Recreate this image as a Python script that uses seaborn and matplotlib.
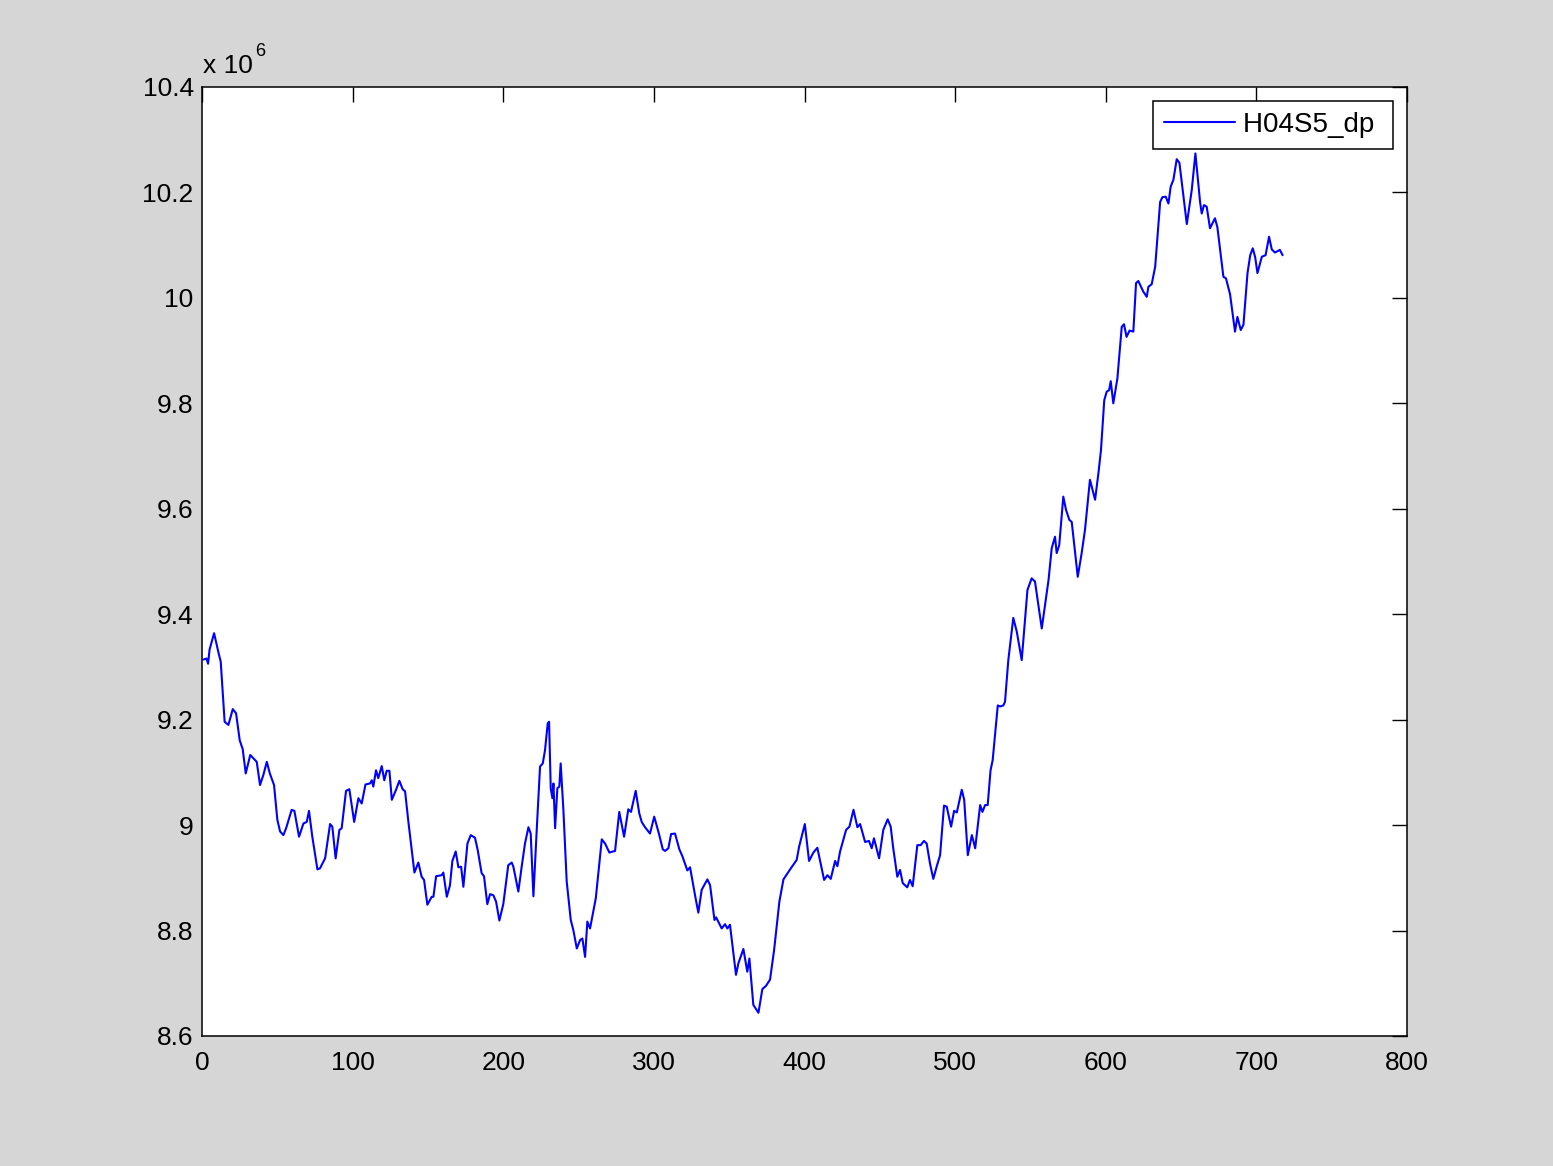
import pandas as pd
import matplotlib
matplotlib.use("Agg")
import matplotlib.pyplot as plt
import seaborn as sns

# sample index and value (in units of 1e6)
sample = [1, 3, 4, 5, 8, 11, 12.4, 15, 17.5, 20.4, 22.6, 25, 27, 29, 32, 34, 36.3, 38.5,
          40.7, 43, 45, 47.8, 50, 51.8, 54, 55.8, 59.5, 61.3, 64.4, 67.3, 69.5, 71, 73.2,
          76.6, 78.3, 81.7, 85, 86.5, 88.7, 91.2, 92.7, 95.6, 97.8, 101, 103.8, 106, 108.5,
          111.5, 112.7, 113.7, 115.5, 117, 119.3, 121, 122.6, 124.4, 126, 128.8, 131, 133.2,
          134.8, 137, 141, 143.6, 145.8, 147.4, 149.6, 152.5, 153.6, 155.4, 159.1, 160.2,
          162.5, 164.6, 166.2, 168.4, 170.2, 172, 173.5, 176.2, 178.4, 181.2, 183, 185.6,
          187.2, 189.4, 191.2, 193.4, 195.2, 197.4, 200, 203.3, 205.6, 206.7, 210, 212.2,
          214.4, 216.7, 218.2, 220, 222.2, 224.4, 226.2, 227.7, 229.5, 230.4, 231.5, 232.6,
          233.3, 234.4, 235.9, 237.2, 238.1, 239.9, 242.1, 244.8, 246.5, 248.8, 251, 252.5,
          254.3, 255.8, 257.6, 261.4, 265.4, 267.6, 270.4, 274.2, 277, 280.2, 283, 284.8,
          287.9, 290.3, 291.9, 294.1, 297.4, 300.2, 303.3, 305.9, 307.4, 309.6, 311.4, 314,
          316.9, 318.9, 322.2, 324, 327.3, 329.5, 331.7, 332.8, 335.5, 337.3, 340.2, 341.3,
          345, 347.2, 348.8, 350.5, 354.5, 356.1, 359.4, 362, 363.4, 366, 369.4, 372, 374.4,
          377.1, 379.8, 383.3, 386, 390.9, 394.8, 396.4, 400.2, 403, 405.9, 408.5, 413,
          415.2, 417.4, 420.3, 421.8, 423.6, 427.6, 429.8, 432.5, 435.1, 436.9, 440.2, 442.8,
          444.6, 446.1, 449.5, 452.3, 455.2, 457.2, 458.9, 461.6, 463.4, 465.2, 468.2, 470,
          471.8, 474.9, 477.1, 479.3, 481.1, 483.3, 485.5, 487.8, 490, 492.6, 494.4, 497.3,
          499.3, 501.1, 504.4, 506, 508.4, 511.1, 513.3, 516.6, 518.1, 519.9, 521.6, 523.5,
          524.9, 528.3, 529.8, 532, 533.1, 535.3, 538.6, 540.9, 544.2, 548, 550.8, 553,
          557.5, 560.8, 562, 564.1, 566.3, 567.4, 569.1, 571.8, 573.6, 575.8, 577.4, 581.4,
          584, 586.2, 589.5, 592.9, 595.1, 596.8, 599, 600.6, 602.2, 603.3, 605, 607.7,
          610.6, 612.1, 613.8, 615.8, 618.3, 620.1, 621.6, 624.9, 627.2, 628.3, 630.5, 632.8,
          636.1, 637.6, 639.8, 641.6, 643.1, 644.9, 647.1, 648.9, 653.8, 657.1, 659.5, 662.6,
          663.7, 665.2, 667, 669.2, 672.5, 674.1, 678.1, 679.8, 682.5, 685.8, 687.4, 689.6,
          691.4, 694.1, 695.9, 697.6, 699.2, 700.7, 703.6, 706.1, 708.4, 710.2, 712.3, 715.6,
          717.4]

h04s5_dp = [9.314, 9.316, 9.306, 9.333, 9.364, 9.326, 9.310, 9.196, 9.190, 9.220, 9.212,
            9.161, 9.144, 9.098, 9.133, 9.127, 9.120, 9.076, 9.095, 9.120, 9.098, 9.076,
            9.010, 8.988, 8.981, 8.994, 9.029, 9.027, 8.978, 9.003, 9.006, 9.027, 8.978,
            8.916, 8.918, 8.937, 9.002, 8.997, 8.937, 8.991, 8.994, 9.065, 9.068, 9.006,
            9.051, 9.041, 9.077, 9.079, 9.085, 9.073, 9.104, 9.089, 9.112, 9.085, 9.103,
            9.103, 9.048, 9.067, 9.084, 9.068, 9.064, 9.006, 8.910, 8.929, 8.902, 8.896,
            8.849, 8.864, 8.864, 8.903, 8.905, 8.910, 8.864, 8.886, 8.932, 8.950, 8.920,
            8.921, 8.883, 8.965, 8.981, 8.976, 8.953, 8.909, 8.903, 8.850, 8.869, 8.867,
            8.855, 8.819, 8.850, 8.924, 8.929, 8.921, 8.874, 8.921, 8.965, 8.996, 8.984,
            8.865, 8.991, 9.111, 9.117, 9.142, 9.193, 9.196, 9.070, 9.051, 9.079, 8.994,
            9.070, 9.073, 9.117, 9.029, 8.893, 8.820, 8.801, 8.766, 8.782, 8.785, 8.750,
            8.817, 8.804, 8.861, 8.973, 8.965, 8.948, 8.951, 9.025, 8.978, 9.030, 9.025,
            9.065, 9.022, 9.006, 8.996, 8.984, 9.016, 8.984, 8.954, 8.951, 8.956, 8.983,
            8.984, 8.954, 8.941, 8.914, 8.920, 8.867, 8.834, 8.877, 8.883, 8.897, 8.886,
            8.820, 8.825, 8.804, 8.812, 8.804, 8.811, 8.716, 8.738, 8.765, 8.722, 8.747,
            8.659, 8.644, 8.689, 8.695, 8.707, 8.763, 8.855, 8.897, 8.918, 8.934, 8.959,
            9.002, 8.932, 8.948, 8.957, 8.896, 8.905, 8.898, 8.932, 8.922, 8.950, 8.991,
            8.997, 9.029, 8.996, 9.002, 8.968, 8.970, 8.956, 8.975, 8.937, 8.991, 9.011,
            8.997, 8.956, 8.902, 8.915, 8.890, 8.882, 8.896, 8.884, 8.962, 8.962, 8.970,
            8.965, 8.927, 8.898, 8.922, 8.943, 9.037, 9.035, 8.997, 9.027, 9.024, 9.067,
            9.048, 8.943, 8.981, 8.956, 9.038, 9.025, 9.038, 9.038, 9.104, 9.123, 9.227,
            9.225, 9.227, 9.234, 9.313, 9.393, 9.367, 9.313, 9.446, 9.468, 9.462, 9.373,
            9.440, 9.465, 9.525, 9.547, 9.516, 9.531, 9.623, 9.598, 9.579, 9.575, 9.471,
            9.516, 9.560, 9.655, 9.617, 9.667, 9.711, 9.806, 9.822, 9.825, 9.842, 9.800,
            9.847, 9.945, 9.950, 9.926, 9.938, 9.936, 10.028, 10.032, 10.012, 10.002, 10.021,
            10.026, 10.059, 10.182, 10.191, 10.192, 10.179, 10.211, 10.224, 10.263, 10.256,
            10.140, 10.205, 10.274, 10.182, 10.160, 10.176, 10.173, 10.132, 10.151, 10.134,
            10.040, 10.037, 10.007, 9.936, 9.964, 9.939, 9.949, 10.047, 10.081, 10.094,
            10.077, 10.047, 10.078, 10.081, 10.116, 10.092, 10.086, 10.091, 10.081]

x_ticks = [0, 100, 200, 300, 400, 500, 600, 700, 800]
y_ticks = [8.6, 8.8, 9.0, 9.2, 9.4, 9.6, 9.8, 10.0, 10.2, 10.4]
y_labels = ["8.6", "8.8", "9", "9.2", "9.4", "9.6", "9.8", "10", "10.2", "10.4"]

df = pd.DataFrame({"sample": sample, "H04S5_dp": h04s5_dp})

sns.set_style("white")
plt.rcParams["font.family"] = ["Liberation Sans", "DejaVu Sans"]
plt.rcParams["text.color"] = "black"

fig = plt.figure(figsize=(15.53, 11.66), dpi=100, facecolor="#d6d6d6")
ax = fig.add_axes([0.1301, 0.1115, 0.7759, 0.8139])

sns.lineplot(data=df, x="sample", y="H04S5_dp", color="#0000ff", linewidth=1.5,
             label="H04S5_dp ", ax=ax, sort=False, estimator=None)

ax.set_xlim(0, 800)
ax.set_ylim(8.6, 10.4)
ax.set_xticks(x_ticks)
ax.set_yticks(y_ticks)
ax.set_yticklabels(y_labels)
ax.set_xlabel("")
ax.set_ylabel("")
ax.tick_params(direction="in", length=11, width=1.0, labelsize=19, color="black",
               labelcolor="black", top=True, right=True)
ax.tick_params(axis="x", pad=11)
ax.tick_params(axis="y", pad=6)
for side in ax.spines.values():
    side.set_visible(True)
    side.set_color("black")
    side.set_linewidth(1.1)

leg = ax.legend(loc="upper right", fontsize=20, frameon=True, fancybox=False,
                framealpha=1, edgecolor="black", handlelength=2.55,
                handletextpad=0.3, borderaxespad=0.5, borderpad=0.4)
leg.get_frame().set_linewidth(1.1)

fig.text(203 / 1553, 1 - 66 / 1166, "x 10", fontsize=19, va="center", ha="left")
fig.text(255 / 1553, 1 - 51 / 1166, "6", fontsize=13, va="center", ha="left")

fig.savefig("out.png", dpi=100, facecolor=fig.get_facecolor())
